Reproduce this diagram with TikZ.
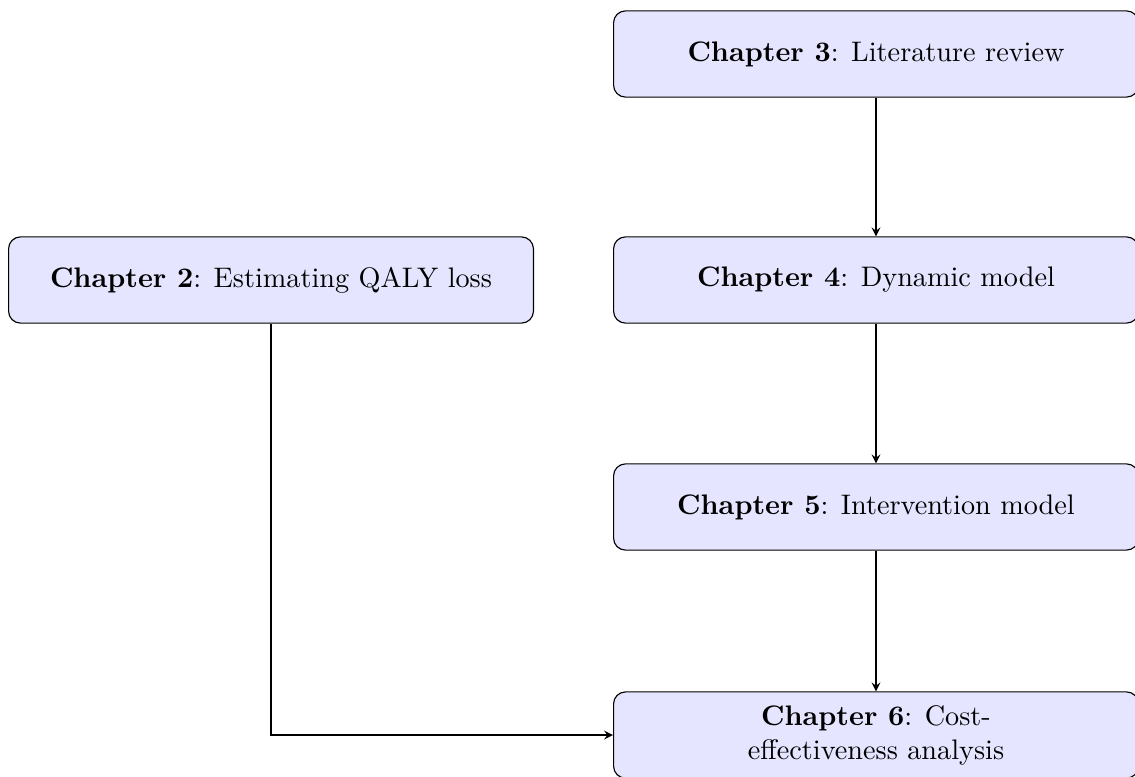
\documentclass[tikz,border=0pt]{standalone}
\usetikzlibrary{positioning}
\begin{document}
\begin{tikzpicture}[x=0.354pt,y=-0.354pt,
  chapbox/.style={draw, fill=blue!10, rounded corners=4.2pt, minimum width=185.8pt,
    minimum height=30.5pt, align=center, inner sep=4pt},
  flow/.style={-stealth}]
\useasboundingbox (0,0) rectangle (1135,776);
\node[chapbox] (c3) at (876,54) {\textbf{Chapter 3}: Literature review};
\node[chapbox] (c2) at (271,280) {\textbf{Chapter 2}: Estimating QALY loss};
\node[chapbox] (c4) at (876,280) {\textbf{Chapter 4}: Dynamic model};
\node[chapbox] (c5) at (876,507) {\textbf{Chapter 5}: Intervention model};
\node[chapbox] (c6) at (876,735) {\textbf{Chapter 6}: Cost-\\effectiveness analysis};
\draw[flow] (c3) -- (c4);
\draw[flow] (c4) -- (c5);
\draw[flow] (c5) -- (c6);
\draw[flow] (c2) |- (c6);
\end{tikzpicture}
\end{document}
